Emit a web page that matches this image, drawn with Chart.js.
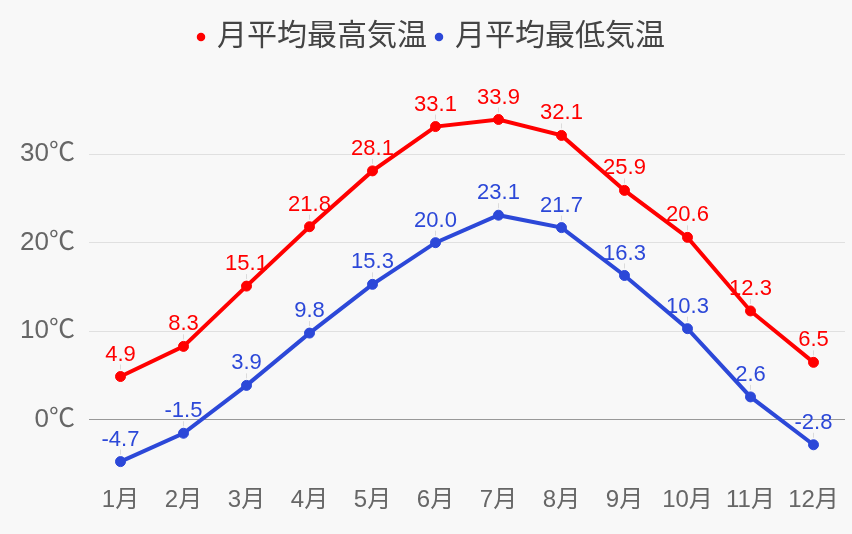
<!DOCTYPE html>
<html><head><meta charset="utf-8">
<script src="https://cdn.jsdelivr.net/npm/chart.js@4"></script>
<style>html,body{margin:0;padding:0;background:#f8f8f8;}#wrap{width:852px;height:534px;}</style>
</head><body><div id="wrap"><canvas id="c"></canvas></div>
<script>
const categories = ['1月','2月','3月','4月','5月','6月','7月','8月','9月','10月','11月','12月'];
const highTemps = [4.9, 8.3, 15.1, 21.8, 28.1, 33.1, 33.9, 32.1, 25.9, 20.6, 12.3, 6.5];
const lowTemps = [-4.7, -1.5, 3.9, 9.8, 15.3, 20.0, 23.1, 21.7, 16.3, 10.3, 2.6, -2.8];
const yTickValues = [0, 10, 20, 30];
const seriesNames = ['月平均最高気温', '月平均最低気温'];

const FONT = '"Liberation Sans", Arial, "Noto Sans CJK JP", sans-serif';

const labelPlugin = {
  id: 'pointLabels',
  afterDatasetsDraw(chart) {
    const ctx = chart.ctx;
    chart.data.datasets.forEach((ds, i) => {
      const meta = chart.getDatasetMeta(i);
      meta.data.forEach((pt, j) => {
        ctx.save();
        ctx.strokeStyle = 'rgba(200,200,200,0.6)';
        ctx.lineWidth = 1;
        ctx.beginPath();
        ctx.moveTo(pt.x, pt.y - 7);
        ctx.lineTo(pt.x, pt.y - 12);
        ctx.stroke();
        ctx.fillStyle = ds.borderColor;
        ctx.font = '22px ' + FONT;
        ctx.textAlign = 'center';
        ctx.textBaseline = 'middle';
        ctx.fillText(ds.data[j].toFixed(1), pt.x, pt.y - 22);
        ctx.restore();
      });
    });
  }
};
const legendMargin = {
  id: 'legendMargin',
  beforeInit(chart) {
    const fit = chart.legend.fit;
    chart.legend.fit = function() { fit.bind(chart.legend)(); this.height += 30; };
  },
  afterLayout(chart) {
    chart.legend.left += 10;
    chart.legend.right += 10;
  }
};

new Chart(document.getElementById('c'), {
  type: 'line',
  data: {
    labels: categories,
    datasets: [
      { label: seriesNames[0], data: highTemps, borderColor: '#ff0000', backgroundColor: '#ff0000',
        borderWidth: 4, pointRadius: 5, pointBorderWidth: 1, pointHoverRadius: 5, tension: 0 },
      { label: seriesNames[1], data: lowTemps, borderColor: '#2c48d8', backgroundColor: '#2c48d8',
        borderWidth: 4, pointRadius: 5, pointBorderWidth: 1, pointHoverRadius: 5, tension: 0 }
    ]
  },
  plugins: [labelPlugin, legendMargin],
  options: {
    responsive: true, maintainAspectRatio: false, animation: false,
    layout: { padding: { top: 11, right: 7, bottom: 0, left: 0 } },
    plugins: {
      legend: {
        labels: { usePointStyle: true, pointStyle: 'circle', boxWidth: 2, boxHeight: 6,
          font: { size: 30, family: FONT }, color: '#444', padding: 11,
          generateLabels(chart) {
            const items = Chart.defaults.plugins.legend.labels.generateLabels(chart);
            items.forEach(it => { it.lineWidth = 0; });
            return items;
          }
        }
      },
      tooltip: { enabled: false }
    },
    scales: {
      x: {
        offset: true,
        grid: { display: false, drawTicks: false },
        border: { display: false },
        ticks: { font: { size: 24, family: FONT }, color: '#666', padding: 4, maxRotation: 0 },
        afterFit(s) { s.height = 52; }
      },
      y: {
        min: -7, max: 37,
        afterBuildTicks(s) { s.ticks = yTickValues.map(v => ({ value: v })); },
        grid: {
          drawTicks: false,
          color: ctx => (ctx.tick && ctx.tick.value === 0) ? '#999' : '#e0e0e0',
          lineWidth: 1
        },
        border: { display: false },
        ticks: { font: { size: 26, family: FONT }, color: '#666', padding: 14,
          callback: v => v + '℃' },
        afterFit(s) { s.width = 89; }
      }
    }
  }
});
</script></body></html>
